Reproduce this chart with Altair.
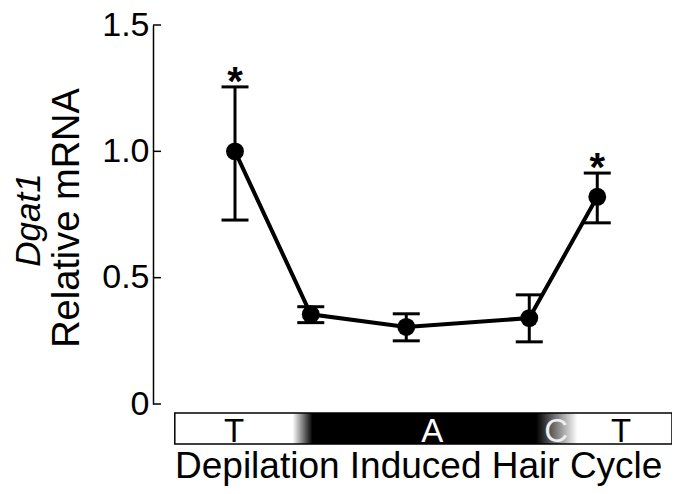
import altair as alt
import pandas as pd

# Time-course positions (arbitrary units along the depilation-induced hair cycle)
stage_pos = [15.8, 30.4, 48.8, 72.5, 85.6]
rel_mrna = [1.0, 0.355, 0.305, 0.34, 0.82]
err_hi = [1.255, 0.385, 0.357, 0.432, 0.914]
err_lo = [0.728, 0.322, 0.250, 0.246, 0.717]
signif = ["*", "", "", "", "*"]

# Hair-cycle phase strip
phase_labels = ["T", "A", "C", "T"]
phase_pos = [15.6, 53.8, 77.7, 90.2]
phase_colors = ["black", "white", "#eeeeee", "black"]
strip_x = [4.2, 100.0]
strip_y = [-0.036, -0.158]

y_ticks = [0, 0.5, 1.0, 1.5]

FONT = "Liberation Sans"

df = pd.DataFrame({"x": stage_pos, "y": rel_mrna, "hi": err_hi, "lo": err_lo, "sig": signif})
phase_df = pd.DataFrame({"x": phase_pos, "label": phase_labels, "color": phase_colors})
strip_df = pd.DataFrame({"x": [strip_x[0]], "x2": [strip_x[1]], "y": [strip_y[0]], "y2": [strip_y[1]]})
tick_df = pd.DataFrame({"y": y_ticks})

xs = alt.Scale(domain=[0, 100])
ys = alt.Scale(domain=[0, 1.5])

X = alt.X("x:Q", scale=xs, axis=None)

base = alt.Chart(df)

axis_layer = alt.Chart(pd.DataFrame({"x": [stage_pos[0]], "y": [rel_mrna[0]]})).mark_point(opacity=0).encode(
    x=X,
    y=alt.Y("y:Q", scale=ys, title=None,
            axis=alt.Axis(values=y_ticks, grid=False, domainColor="black", domainWidth=1.5,
                          ticks=False,
                          labelFont=FONT, labelFontSize=34, labelColor="black", labelPadding=4,
                          labelExpr="datum.value == 0 ? '0' : format(datum.value, '.1f')",
                          labelFlush=False, labelOverlap=False)),
)

inner_ticks = alt.Chart(tick_df).mark_rule(color="black", strokeWidth=1.5).encode(
    y=alt.Y("y:Q", scale=ys), x=alt.value(0), x2=alt.value(8)
)

line = base.mark_line(color="black", strokeWidth=4).encode(x=X, y=alt.Y("y:Q", scale=ys))
rules = base.mark_rule(color="black", strokeWidth=3, opacity=1).encode(x=X, y=alt.Y("lo:Q", scale=ys), y2="hi:Q")
cap_hi = base.mark_tick(color="black", orient="horizontal", size=27, thickness=3, opacity=1).encode(x=X, y=alt.Y("hi:Q", scale=ys))
cap_lo = base.mark_tick(color="black", orient="horizontal", size=27, thickness=3, opacity=1).encode(x=X, y=alt.Y("lo:Q", scale=ys))
points = base.mark_circle(color="black", opacity=1, size=320).encode(x=X, y=alt.Y("y:Q", scale=ys))
stars = base.mark_text(font=FONT, fontSize=40, fontWeight="bold", color="black",
                       baseline="alphabetic", dy=8).encode(x=X, y=alt.Y("hi:Q", scale=ys), text="sig:N")

grad = alt.Gradient(
    gradient="linear",
    stops=[
        alt.GradientStop(color="white", offset=0),
        alt.GradientStop(color="white", offset=0.237),
        alt.GradientStop(color="black", offset=0.277),
        alt.GradientStop(color="black", offset=0.727),
        alt.GradientStop(color="white", offset=0.81),
        alt.GradientStop(color="white", offset=1),
    ],
    x1=0, x2=1, y1=0, y2=0,
)
strip = alt.Chart(strip_df).mark_rect(fill=grad, stroke="black", strokeWidth=1.5).encode(
    x=alt.X("x:Q", scale=xs, axis=None), x2="x2:Q",
    y=alt.Y("y:Q", scale=ys), y2="y2:Q",
)
phase_text = alt.Chart(phase_df).mark_text(font=FONT, fontSize=33, baseline="alphabetic").encode(
    x=alt.X("x:Q", scale=xs, axis=None),
    y=alt.value(379 + 38),
    text="label:N",
    color=alt.Color("color:N", scale=None),
)

xlabel = alt.Chart(pd.DataFrame({"t": ["Depilation Induced Hair Cycle"]})).mark_text(
    font=FONT, fontSize=37, baseline="alphabetic", align="left", color="black"
).encode(x=alt.value(22), y=alt.value(379 + 74), text="t:N")

ytitle1 = alt.Chart(pd.DataFrame({"t": ["Dgat1"]})).mark_text(
    font=FONT, fontSize=35, fontStyle="italic", angle=270, baseline="alphabetic", align="center", color="black"
).encode(x=alt.value(-113), y=alt.value(195), text="t:N")
ytitle2 = alt.Chart(pd.DataFrame({"t": ["Relative mRNA"]})).mark_text(
    font=FONT, fontSize=38, angle=270, baseline="alphabetic", align="center", color="black"
).encode(x=alt.value(-74), y=alt.value(193), text="t:N")

chart = alt.layer(
    axis_layer, inner_ticks, strip, phase_text, xlabel, ytitle1, ytitle2,
    line, rules, cap_hi, cap_lo, points, stars,
).properties(
    width=519, height=379,
    autosize=alt.AutoSizeParams(type="none"),
    padding={"left": 145, "top": 17, "right": 0, "bottom": 82},
).configure(background="white", view=alt.ViewConfig(stroke=None))

chart.save("out.html", embed_options={"renderer": "svg", "actions": False})
